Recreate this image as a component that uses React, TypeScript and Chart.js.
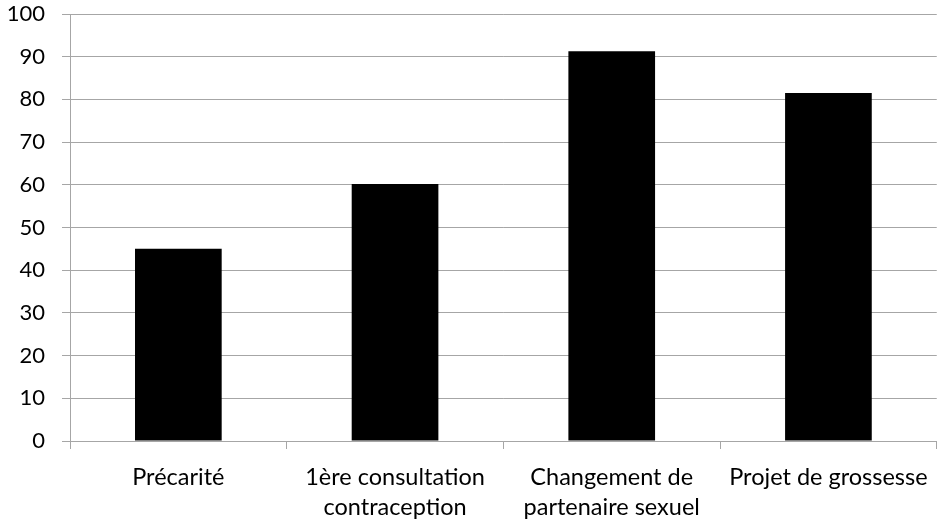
import React, { useEffect, useRef } from "react";
import { Chart, registerables } from "chart.js";

Chart.register(...registerables);

const categories: (string | string[])[] = [
  "Précarité",
  ["1ère consultation", "contraception"],
  ["Changement de", "partenaire sexuel"],
  "Projet de grossesse",
];
const values = [45, 60.2, 91.3, 81.5];
const yMin = 0;
const yMax = 100;
const yStep = 10;

export default function App() {
  const ref = useRef<HTMLCanvasElement | null>(null);
  useEffect(() => {
    if (!ref.current) return;
    const chart = new Chart(ref.current, {
      type: "bar",
      data: {
        labels: categories,
        datasets: [
          {
            data: values,
            backgroundColor: "#000000",
            borderWidth: 0,
            barPercentage: 0.4,
            categoryPercentage: 1,
          },
        ],
      },
      options: {
        animation: false,
        responsive: false,
        maintainAspectRatio: false,
        layout: { padding: { top: 0, right: 3, left: 0, bottom: 0 } },
        plugins: { legend: { display: false }, tooltip: { enabled: false } },
        scales: {
          x: {
            grid: {
              offset: true,
              drawOnChartArea: false,
              drawTicks: true,
              tickLength: 8,
              color: "#a6a6a6",
            },
            border: { color: "#a6a6a6" },
            ticks: {
              color: "#000",
              font: { family: "Lato", size: 23.5, lineHeight: "30px" },
              padding: 13,
              maxRotation: 0,
              autoSkip: false,
            },
            afterFit: (s: any) => {
              s.height = 81;
            },
          },
          y: {
            min: yMin,
            max: yMax,
            grid: { color: "#a6a6a6", tickLength: 8, drawTicks: true },
            border: { color: "#a6a6a6" },
            ticks: {
              stepSize: yStep,
              color: "#000",
              font: { family: "Lato", size: 22, lineHeight: "28px" },
              padding: 17,
            },
            afterFit: (s: any) => {
              s.width = 70;
              s.paddingTop = 14;
              s.paddingBottom = 0;
            },
          },
        },
      },
    });
    return () => chart.destroy();
  }, []);
  return (
    <div style={{ position: "absolute", left: 0, top: 0, width: 941, height: 522, background: "#fff" }}>
      <canvas ref={ref} width={941} height={522} style={{ display: "block" }} />
    </div>
  );
}
